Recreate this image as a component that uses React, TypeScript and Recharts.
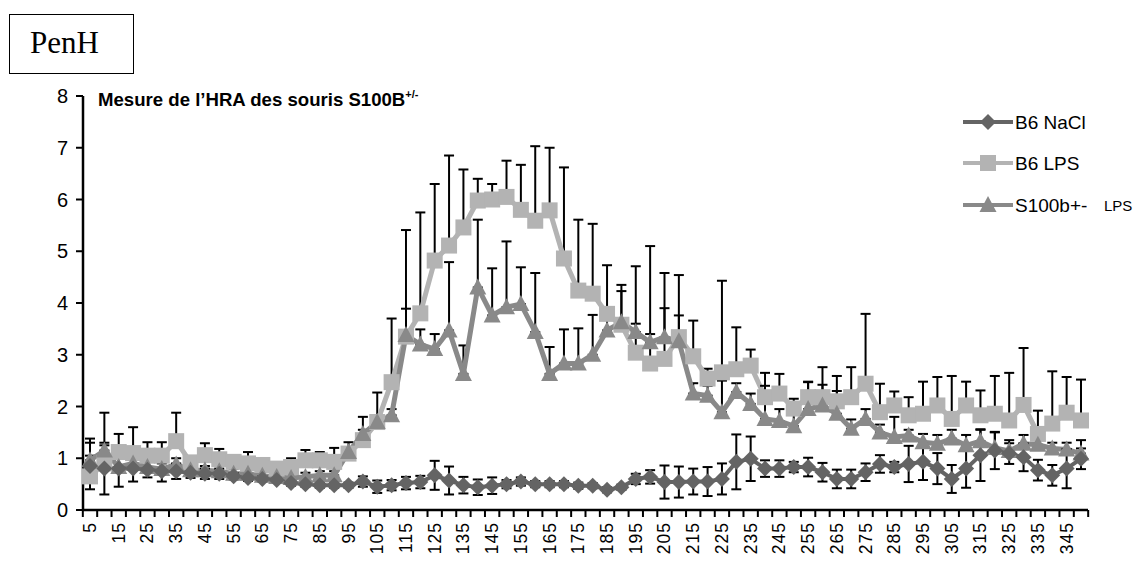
import React from "react";
import { LineChart, Line, XAxis, YAxis, ErrorBar } from "recharts";

// time points (min)
const times = [
  5, 10, 15, 20, 25, 30, 35, 40, 45, 50,
  55, 60, 65, 70, 75, 80, 85, 90, 95, 100,
  105, 110, 115, 120, 125, 130, 135, 140, 145, 150,
  155, 160, 165, 170, 175, 180, 185, 190, 195, 200,
  205, 210, 215, 220, 225, 230, 235, 240, 245, 250,
  255, 260, 265, 270, 275, 280, 285, 290, 295, 300,
  305, 310, 315, 320, 325, 330, 335, 340, 345, 350,
];

// B6 NaCl (diamonds) + symmetric error
const b6NaCl = [
  0.85, 0.8, 0.8, 0.8, 0.78, 0.75, 0.75, 0.72, 0.7, 0.7,
  0.65, 0.62, 0.6, 0.58, 0.52, 0.5, 0.48, 0.48, 0.48, 0.55,
  0.45, 0.48, 0.52, 0.54, 0.67, 0.57, 0.48, 0.44, 0.47, 0.5,
  0.55, 0.5, 0.5, 0.5, 0.47, 0.47, 0.39, 0.44, 0.6, 0.64,
  0.54, 0.54, 0.55, 0.55, 0.6, 0.93, 0.99, 0.8, 0.8, 0.83,
  0.83, 0.73, 0.6, 0.6, 0.73, 0.89, 0.83, 0.89, 0.93, 0.8,
  0.6, 0.8, 1.06, 1.15, 1.09, 1.02, 0.77, 0.67, 0.8, 0.99,
];
const b6NaClErr = [
  0.45, 0.5, 0.35, 0.25, 0.15, 0.2, 0.15, 0.1, 0.1, 0.1,
  0.06, 0.06, 0.05, 0.05, 0.05, 0.05, 0.05, 0.05, 0.05, 0.1,
  0.12, 0.1, 0.12, 0.12, 0.28, 0.27, 0.16, 0.15, 0.16, 0.08,
  0.08, 0.06, 0.06, 0.06, 0.06, 0.05, 0.05, 0.05, 0.1, 0.13,
  0.32, 0.3, 0.25, 0.28, 0.3, 0.53, 0.43, 0.16, 0.16, 0.1,
  0.18, 0.18, 0.18, 0.18, 0.17, 0.17, 0.1, 0.35, 0.35, 0.3,
  0.27, 0.37, 0.5, 0.36, 0.2, 0.27, 0.2, 0.2, 0.38, 0.2,
];

// B6 LPS (squares) + top of the upper whisker
const b6Lps = [
  0.65, 0.9, 1.12, 1.1, 1.05, 1.05, 1.33, 0.92, 1.06, 0.98,
  0.93, 0.9, 0.87, 0.8, 0.83, 0.96, 0.96, 0.93, 1.09, 1.35,
  1.7, 2.47, 3.35, 3.8, 4.82, 5.11, 5.46, 5.98, 6.0, 6.05,
  5.8, 5.59, 5.79, 4.86, 4.24, 4.18, 3.79, 3.58, 3.04, 2.83,
  2.92, 3.34, 2.97, 2.54, 2.66, 2.72, 2.79, 2.18, 2.25, 1.96,
  2.18, 2.18, 2.1, 2.18, 2.44, 1.89, 2.02, 1.83, 1.86, 2.02,
  1.76, 2.02, 1.83, 1.86, 1.73, 2.03, 1.47, 1.67, 1.88, 1.73,
];
const b6LpsTop = [
  1.05, 1.88, 1.47, 1.6, 1.31, 1.31, 1.88, 1.0, 1.29, 1.18,
  1.05, 1.12, 1.0, 0.9, 1.0, 1.16, 1.12, 1.2, 1.31, 1.8,
  2.27, 3.7, 5.41, 5.75, 6.3, 6.85, 6.58, 6.4, 6.3, 6.75,
  6.67, 7.03, 7.0, 6.62, 5.61, 5.53, 4.73, 4.35, 4.71, 5.1,
  4.58, 4.54, 3.66, 2.73, 4.43, 3.53, 3.1, 2.65, 2.63, 2.15,
  2.48, 2.76, 2.59, 2.76, 3.79, 2.44, 2.29, 2.18, 2.48, 2.57,
  2.59, 2.48, 2.31, 2.59, 2.65, 3.13, 1.92, 2.68, 2.57, 2.52,
];

// S100b+/- LPS (triangles) + top of the upper whisker
const s100Lps = [
  0.96, 1.15, 0.83, 0.9, 0.83, 0.79, 0.88, 0.77, 0.77, 0.75,
  0.7, 0.7, 0.66, 0.64, 0.62, 0.64, 0.67, 0.67, 1.12, 1.47,
  1.7, 1.83, 3.38, 3.2, 3.11, 3.47, 2.63, 4.3, 3.76, 3.92,
  3.98, 3.44, 2.63, 2.83, 2.83, 3.0, 3.47, 3.63, 3.44, 3.24,
  3.34, 3.26, 2.25, 2.21, 1.89, 2.28, 2.05, 1.76, 1.72, 1.62,
  1.95, 2.02, 1.86, 1.57, 1.76, 1.5, 1.41, 1.44, 1.31, 1.28,
  1.38, 1.25, 1.33, 1.2, 1.14, 1.28, 1.26, 1.19, 1.17, 1.09,
];
const s100LpsTop = [
  1.38, 1.25, 1.0, 1.0, 0.95, 0.9, 1.0, 0.85, 0.85, 0.85,
  0.8, 0.8, 0.75, 0.72, 0.7, 0.72, 0.75, 0.75, 1.2, 1.55,
  1.8, 1.95, 3.89, 3.49, 3.4, 4.79, 3.18, 5.61, 4.67, 5.19,
  4.69, 4.58, 3.15, 3.49, 3.51, 3.77, 3.75, 4.23, 3.6, 3.4,
  3.9, 3.76, 2.45, 2.4, 2.5, 2.45, 2.25, 2.4, 1.95, 1.85,
  2.47, 2.42, 2.3, 1.75, 1.95, 1.65, 1.8, 1.55, 1.47, 1.45,
  1.55, 1.45, 1.55, 1.5, 1.35, 1.45, 1.45, 1.3, 1.3, 1.35,
];

const yTicks = [0, 1, 2, 3, 4, 5, 6, 7, 8];

const W = 1138;
const H = 563;
const PLOT_LEFT = 83;
const PLOT_RIGHT = 1088;
const X_PAD = 7;
const HALF_STEP = (PLOT_RIGHT - PLOT_LEFT - 2 * X_PAD) / (times.length - 1) / 2;

const FONT = "Arial, 'Liberation Sans', sans-serif";
const NACL = "#646464";
const LPS = "#b3b3b3";
const S100 = "#898989";

const data = times.map((t, i) => ({
  t,
  nacl: b6NaCl[i],
  naclErr: b6NaClErr[i],
  lps: b6Lps[i],
  lpsErr: [0, Math.max(0, +(b6LpsTop[i] - b6Lps[i]).toFixed(2))],
  s100: s100Lps[i],
  s100Err: [0, Math.max(0, +(s100LpsTop[i] - s100Lps[i]).toFixed(2))],
}));

const Square = ({ cx, cy, fill }: any) => (
  <rect x={cx - 8} y={cy - 8} width={16} height={16} fill={fill} />
);
const Triangle = ({ cx, cy, fill }: any) => (
  <polygon
    points={`${cx},${cy - 9} ${cx + 8.5},${cy + 7} ${cx - 8.5},${cy + 7}`}
    fill={fill}
  />
);
const Diamond = ({ cx, cy, fill }: any) => (
  <polygon
    points={`${cx},${cy - 8} ${cx + 8},${cy} ${cx},${cy + 8} ${cx - 8},${cy}`}
    fill={fill}
  />
);

const XTick = (props: any) => {
  const { x, y, payload, index } = props;
  return (
    <g>
      <line x1={x - HALF_STEP} x2={x - HALF_STEP} y1={y} y2={y + 7} stroke="#000" strokeWidth={2} />
      {index === times.length - 1 && (
        <line x1={x + HALF_STEP} x2={x + HALF_STEP} y1={y} y2={y + 7} stroke="#000" strokeWidth={2} />
      )}
      {index % 2 === 0 && (
        <text
          transform={`translate(${x + 6},${y + 12}) rotate(-90)`}
          textAnchor="end"
          fontSize={17.5}
          letterSpacing={1}
          fontFamily={FONT}
          fill="#000"
        >
          {payload.value}
        </text>
      )}
    </g>
  );
};

const legendItems = [
  { label: "B6 NaCl", extra: "", color: NACL, Shape: Diamond, y: 122 },
  { label: "B6 LPS", extra: "", color: LPS, Shape: Square, y: 163 },
  { label: "S100b+-", extra: "LPS", color: S100, Shape: Triangle, y: 205 },
];

export default function App() {
  return (
    <div style={{ position: "absolute", left: 0, top: 0, width: W, height: H, background: "#fff" }}>
      <LineChart
        width={W}
        height={H}
        data={data}
        margin={{ top: 96, right: W - PLOT_RIGHT, left: PLOT_LEFT - 40, bottom: 3 }}
      >
        <XAxis
          dataKey="t"
          type="category"
          interval={0}
          padding={{ left: X_PAD, right: X_PAD }}
          height={50}
          tickSize={0}
          tickMargin={0}
          tickLine={false}
          axisLine={{ stroke: "#000", strokeWidth: 2.5 }}
          tick={(p: any) => <XTick {...p} />}
        />
        <YAxis
          domain={[0, 8]}
          ticks={yTicks}
          interval={0}
          width={40}
          tickSize={7}
          tickMargin={8}
          axisLine={{ stroke: "#000", strokeWidth: 2.5 }}
          tickLine={{ stroke: "#000", strokeWidth: 2 }}
          tick={{ fill: "#000", fontSize: 20, fontFamily: FONT }}
        />

        {/* B6 LPS */}
        <Line
          dataKey="lps"
          stroke={LPS}
          strokeWidth={5}
          isAnimationActive={false}
          dot={(p: any) => <Square key={`sq-${p.index}`} cx={p.cx} cy={p.cy} fill={LPS} />}
          activeDot={false}
        >
          <ErrorBar dataKey="lpsErr" direction="y" width={5} strokeWidth={2} stroke="#000" />
        </Line>

        {/* S100b+/- LPS */}
        <Line
          dataKey="s100"
          stroke={S100}
          strokeWidth={5}
          isAnimationActive={false}
          dot={(p: any) => <Triangle key={`tr-${p.index}`} cx={p.cx} cy={p.cy} fill={S100} />}
          activeDot={false}
        >
          <ErrorBar dataKey="s100Err" direction="y" width={5} strokeWidth={2} stroke="#000" />
        </Line>

        {/* B6 NaCl */}
        <Line
          dataKey="nacl"
          stroke={NACL}
          strokeWidth={4}
          isAnimationActive={false}
          dot={(p: any) => <Diamond key={`di-${p.index}`} cx={p.cx} cy={p.cy} fill={NACL} />}
          activeDot={false}
        >
          <ErrorBar dataKey="naclErr" direction="y" width={5} strokeWidth={2} stroke="#000" />
        </Line>
      </LineChart>

      {/* PenH box */}
      <div
        style={{
          position: "absolute",
          left: 9,
          top: 14,
          width: 125,
          height: 60,
          boxSizing: "border-box",
          border: "1px solid #000",
        }}
      >
        <span
          style={{
            position: "absolute",
            left: 20,
            top: 13,
            fontFamily: "'Times New Roman', 'Liberation Serif', serif",
            fontSize: 31,
            lineHeight: "30px",
          }}
        >
          PenH
        </span>
      </div>

      {/* title */}
      <div
        style={{
          position: "absolute",
          left: 98,
          top: 90,
          fontFamily: FONT,
          fontWeight: "bold",
          fontSize: 18.6,
          lineHeight: "19px",
          whiteSpace: "nowrap",
        }}
      >
        Mesure de l’HRA des souris S100B
        <span style={{ fontSize: 11, position: "relative", top: -8 }}>+/-</span>
      </div>

      {/* legend */}
      <svg style={{ position: "absolute", left: 0, top: 0 }} width={W} height={H}>
        {legendItems.map(({ label, extra, color, Shape, y }) => (
          <g key={label}>
            <line x1={963} x2={1013} y1={y} y2={y} stroke={color} strokeWidth={4} />
            <Shape cx={988} cy={y} fill={color} />
            <text x={1015} y={y} dominantBaseline="central" fontFamily={FONT} fontSize={19} fill="#000">
              {label}
            </text>
            {extra && (
              <text x={1104} y={y} dominantBaseline="central" fontFamily={FONT} fontSize={15} fill="#000">
                {extra}
              </text>
            )}
          </g>
        ))}
      </svg>
    </div>
  );
}
